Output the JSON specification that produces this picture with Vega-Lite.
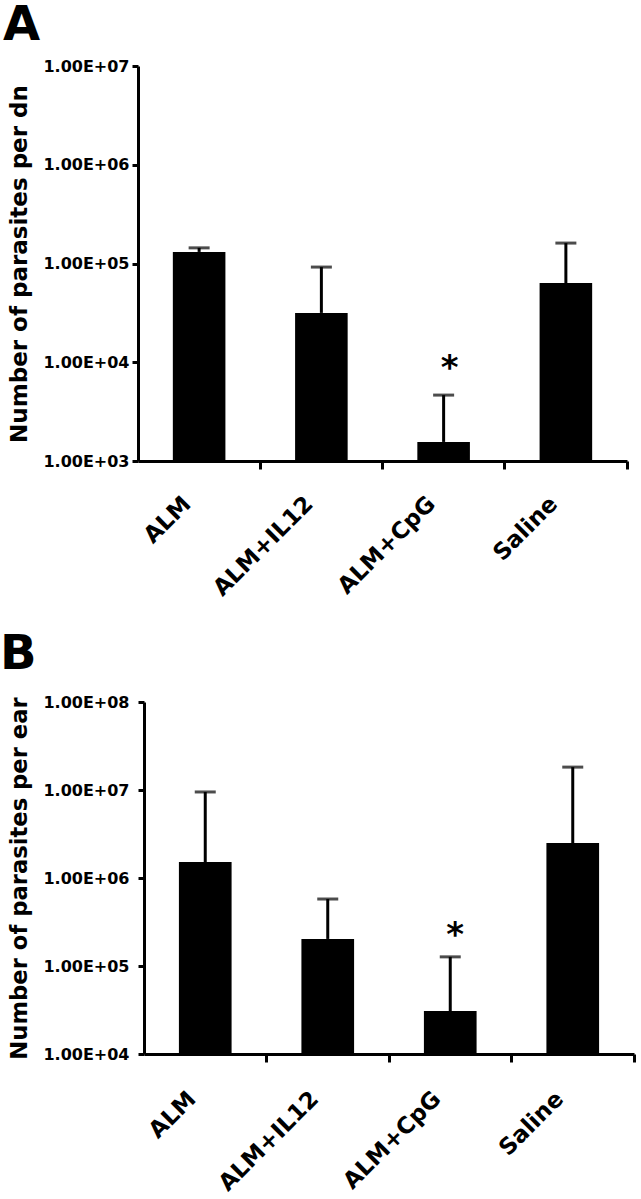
{
  "$schema": "https://vega.github.io/schema/vega-lite/v6.json",
  "background": "white",
  "padding": {"left": -1, "top": 2, "right": 5, "bottom": 5},
  "columns": 1,
  "align": "none",
  "spacing": {"row": 30, "column": 0},
  "config": {
    "view": {"stroke": null},
    "font": "DejaVu Sans",
    "axis": {
      "domainColor": "black", "domainWidth": 3, "tickColor": "black", "tickWidth": 3,
      "labelColor": "black", "titleColor": "black", "labelFont": "DejaVu Sans", "titleFont": "DejaVu Sans",
      "labelFontWeight": "bold", "titleFontWeight": "bold", "grid": false
    }
  },
  "concat": [
    {
      "title": {"text": "A", "anchor": "start", "frame": "bounds", "font": "DejaVu Sans", "fontWeight": "bold", "fontSize": 48, "baseline": "top", "offset": 8, "dx": -6, "color": "black"},
      "width": 489,
      "height": 395,
      "data": {"values": [
        {"group": "ALM", "mean": 131000, "upper": 144000, "sig": ""},
        {"group": "ALM+IL12", "mean": 31600, "upper": 92000, "sig": ""},
        {"group": "ALM+CpG", "mean": 1560, "upper": 4650, "sig": "*"},
        {"group": "Saline", "mean": 63500, "upper": 161000, "sig": ""}
      ]},
      "encoding": {
        "x": {"field": "group", "type": "nominal", "sort": null,
          "scale": {"paddingInner": 0, "paddingOuter": 0},
          "axis": {"title": null, "labelAngle": -45, "labelAlign": "right", "labelBaseline": "middle", "labelFontSize": 23, "labelPadding": 31, "labelOffset": -12, "bandPosition": 1, "tickSize": 8}}
      },
      "layer": [
        {"mark": {"type": "bar", "color": "black", "width": {"band": 0.43}},
         "encoding": {
           "y": {"field": "mean", "type": "quantitative",
             "scale": {"type": "log", "domain": [1000, 10000000], "nice": false},
             "axis": {"title": "Number of parasites per dn", "values": [1000, 10000, 100000, 1000000, 10000000],
               "labelExpr": "'1.00E+0' + format(log(datum.value)/LN10, '.0f')",
               "labelFontSize": 16, "labelPadding": 3, "tickSize": 6, "titleFontSize": 23, "titlePadding": 11}},
           "y2": {"datum": 1000}
         }},
        {"mark": {"type": "rule", "color": "black", "strokeWidth": 3},
         "encoding": {
           "y": {"field": "mean", "type": "quantitative", "title": "Number of parasites per dn", "scale": {"type": "log", "domain": [1000, 10000000], "nice": false}},
           "y2": {"field": "upper"}
         }},
        {"mark": {"type": "tick", "color": "black", "size": 21, "thickness": 3},
         "encoding": {
           "y": {"field": "upper", "type": "quantitative", "title": "Number of parasites per dn", "scale": {"type": "log", "domain": [1000, 10000000], "nice": false}}
         }},
        {"mark": {"type": "text", "color": "black", "font": "DejaVu Sans", "fontWeight": "bold", "fontSize": 34, "baseline": "alphabetic", "dx": 6, "dy": -16},
         "encoding": {
           "y": {"field": "upper", "type": "quantitative", "title": "Number of parasites per dn", "scale": {"type": "log", "domain": [1000, 10000000], "nice": false}},
           "text": {"field": "sig"}
         }}
      ]
    },
    {
      "title": {"text": "B", "anchor": "start", "frame": "bounds", "font": "DejaVu Sans", "fontWeight": "bold", "fontSize": 48, "baseline": "top", "offset": 15, "dx": -9, "color": "black"},
      "width": 496,
      "height": 352,
      "data": {"values": [
        {"group": "ALM", "mean": 1520000, "upper": 9500000, "sig": ""},
        {"group": "ALM+IL12", "mean": 203000, "upper": 577000, "sig": ""},
        {"group": "ALM+CpG", "mean": 30800, "upper": 127000, "sig": "*"},
        {"group": "Saline", "mean": 2500000, "upper": 18200000, "sig": ""}
      ]},
      "encoding": {
        "x": {"field": "group", "type": "nominal", "sort": null,
          "scale": {"paddingInner": 0, "paddingOuter": 0, "range": [6, 496]},
          "axis": {"title": null, "labelAngle": -45, "labelAlign": "right", "labelBaseline": "middle", "labelFontSize": 23, "labelPadding": 33, "labelOffset": -13, "bandPosition": 1, "tickSize": 8}}
      },
      "layer": [
        {"mark": {"type": "bar", "color": "black", "width": {"band": 0.43}},
         "encoding": {
           "y": {"field": "mean", "type": "quantitative",
             "scale": {"type": "log", "domain": [10000, 100000000], "nice": false},
             "axis": {"title": "Number of parasites per ear", "values": [10000, 100000, 1000000, 10000000, 100000000],
               "labelExpr": "'1.00E+0' + format(log(datum.value)/LN10, '.0f')",
               "labelFontSize": 16, "labelPadding": 9, "tickSize": 6, "titleFontSize": 22.7, "titlePadding": 11, "offset": -6}},
           "y2": {"datum": 10000}
         }},
        {"mark": {"type": "rule", "color": "black", "strokeWidth": 3},
         "encoding": {
           "y": {"field": "mean", "type": "quantitative", "title": "Number of parasites per ear", "scale": {"type": "log", "domain": [10000, 100000000], "nice": false}},
           "y2": {"field": "upper"}
         }},
        {"mark": {"type": "tick", "color": "black", "size": 21, "thickness": 3},
         "encoding": {
           "y": {"field": "upper", "type": "quantitative", "title": "Number of parasites per ear", "scale": {"type": "log", "domain": [10000, 100000000], "nice": false}}
         }},
        {"mark": {"type": "text", "color": "black", "font": "DejaVu Sans", "fontWeight": "bold", "fontSize": 34, "baseline": "alphabetic", "dx": 5, "dy": -11},
         "encoding": {
           "y": {"field": "upper", "type": "quantitative", "title": "Number of parasites per ear", "scale": {"type": "log", "domain": [10000, 100000000], "nice": false}},
           "text": {"field": "sig"}
         }}
      ]
    }
  ]
}
